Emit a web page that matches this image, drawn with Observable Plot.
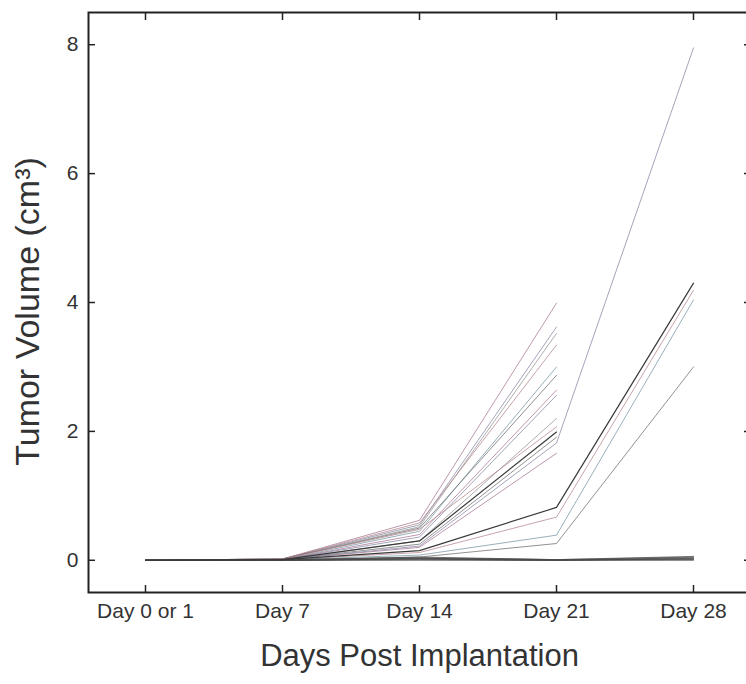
<!DOCTYPE html>
<html>
<head>
<meta charset="utf-8">
<script src="https://cdn.jsdelivr.net/npm/d3@7"></script>
<script src="https://cdn.jsdelivr.net/npm/@observablehq/plot@0.6"></script>
<style>
  html, body { margin: 0; padding: 0; background: #fff; overflow: hidden; }
  #chart svg { display: block; max-width: none !important; }
</style>
</head>
<body>
<div id="chart"></div>
<script>
const days = ["Day 0 or 1", "Day 7", "Day 14", "Day 21", "Day 28"];
const yTicks = [0, 2, 4, 6, 8];
const xTitle = "Days Post Implantation";
const yTitle = "Tumor Volume (cm³)";

// mice whose follow-up ends at Day 21
const endedDay21 = [
  [0, 0.02, 0.62, 3.99],
  [0, 0.02, 0.55, 3.62],
  [0, 0.02, 0.52, 3.52],
  [0, 0.02, 0.58, 3.34],
  [0, 0.01, 0.45, 3.00],
  [0, 0.02, 0.50, 2.87],
  [0, 0.01, 0.40, 2.64],
  [0, 0.01, 0.36, 2.56],
  [0, 0.01, 0.30, 2.20],
  [0, 0.02, 0.48, 2.07],
  [0, 0.01, 0.30, 1.99],
  [0, 0.01, 0.25, 1.91],
  [0, 0.01, 0.20, 1.66]
];
// mice followed to Day 28
const toDay28 = [
  [0, 0.01, 0.22, 1.82, 7.95],
  [0, 0.01, 0.15, 0.82, 4.30],
  [0, 0.01, 0.12, 0.67, 4.19],
  [0, 0.01, 0.08, 0.39, 4.04],
  [0, 0.01, 0.05, 0.26, 3.00]
];
// mice with no measurable growth
const nearZero = [
  [0, 0.00, 0.05, 0.01, 0.06],
  [0, 0.00, 0.03, 0.00, 0.04],
  [0, 0.00, 0.02, 0.00, 0.03],
  [0, 0.01, 0.04, 0.01, 0.02],
  [0, 0.00, 0.01, 0.00, 0.01],
  [0, 0.00, 0.02, 0.00, 0.00],
  [0, 0.00, 0.03, 0.01, 0.05],
  [0, 0.00, 0.00, 0.00, 0.02]
];

const allMice = [...endedDay21, ...toDay28, ...nearZero];
const rows = [];
allMice.forEach((vals, m) => {
  vals.forEach((v, i) => {
    if (v != null) rows.push({mouse: m, day: days[i], volume: v});
  });
});

const nGrowing = endedDay21.length + toDay28.length;
const palette = ["#a3708f", "#8080a0", "#8d8d8d", "#b08088", "#7090a0", "#666666"];
const darkSet = new Set([10, 14]);
const strokeOf = (m) => m >= nGrowing ? "#4a4a4a" : palette[m % palette.length];

const font = "'Liberation Sans', Arial, Helvetica, sans-serif";
const ink = "#333";

const chart = Plot.plot({
  width: 760,
  height: 684,
  marginLeft: 88,
  marginRight: 10,
  marginTop: 12,
  marginBottom: 92,
  style: {fontFamily: font, color: ink, background: "#fff", overflow: "visible", maxWidth: "none"},
  x: {type: "point", domain: days, padding: 0.4},
  y: {domain: [-0.5, 8.5]},
  marks: [
    Plot.line(rows.filter(d => !darkSet.has(d.mouse)), {
      x: "day", y: "volume", z: "mouse",
      stroke: d => strokeOf(d.mouse), strokeWidth: 0.8, strokeOpacity: 0.9
    }),
    Plot.line(rows.filter(d => darkSet.has(d.mouse)), {
      x: "day", y: "volume", z: "mouse",
      stroke: "#3a3a3a", strokeWidth: 1.2
    }),
    // inward ticks on all four sides
    Plot.axisY({anchor: "left", ticks: yTicks, tickSize: 7, dx: 7, text: null, label: null, stroke: "#222", strokeWidth: 1.5}),
    Plot.axisY({anchor: "right", ticks: yTicks, tickSize: 7, dx: -7, text: null, label: null, stroke: "#222", strokeWidth: 1.5}),
    Plot.axisX({anchor: "bottom", tickSize: 7, dy: -7, text: null, label: null, stroke: "#222", strokeWidth: 1.5}),
    Plot.axisX({anchor: "top", tickSize: 7, dy: 7, text: null, label: null, stroke: "#222", strokeWidth: 1.5}),
    // tick labels
    Plot.axisY({anchor: "left", ticks: yTicks, tickSize: 0, tickPadding: 10, label: null, fontSize: 21, fill: ink}),
    Plot.axisX({anchor: "bottom", tickSize: 0, tickPadding: 11, label: null, fontSize: 21, fill: ink}),
    Plot.frame({stroke: "#222", strokeWidth: 2}),
    // axis titles
    Plot.text([yTitle], {frameAnchor: "left", dx: -60, dy: 9, rotate: -90, textAnchor: "middle", fontSize: 34, fill: ink, text: d => d}),
    Plot.text([xTitle], {frameAnchor: "bottom", dy: 73, textAnchor: "middle", fontSize: 31, fill: ink, text: d => d})
  ]
});
document.getElementById("chart").appendChild(chart);
</script>
</body>
</html>
